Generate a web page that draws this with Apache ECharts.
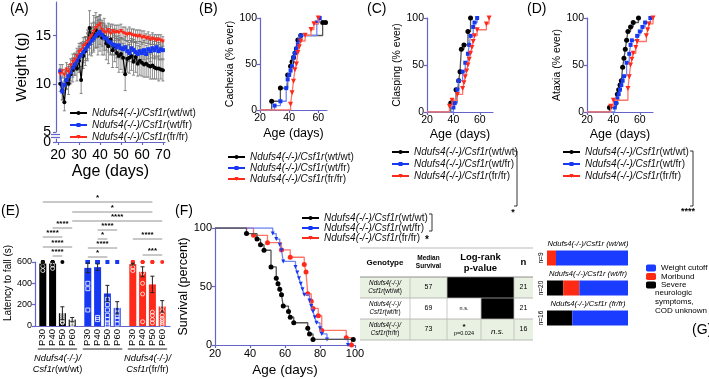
<!DOCTYPE html>
<html>
<head>
<meta charset="utf-8">
<script src="https://cdn.jsdelivr.net/npm/echarts@6.0.0/dist/echarts.min.js"></script>
<style>
html, body { margin: 0; padding: 0; background: #fff; }
#chart { width: 709px; height: 379px; }
</style>
</head>
<body>
<div id="chart"></div>
<script>
var FONT = '"Liberation Sans", Arial, sans-serif';
var AXIS = '#6565c9';

var genotypes = ['Ndufs4(-/-)/Csf1r(wt/wt)', 'Ndufs4(-/-)/Csf1r(wt/fr)', 'Ndufs4(-/-)/Csf1r(fr/fr)'];
var colors = ['#000000', '#1638f2', '#ff2a1a'];
var lineColors = ['#555555', '#6f86f5', '#ff7466'];
var symbols = ['circle', 'rect', 'triangle'];

// (A) body weight by age
var weightDays = [21,22,23,24,25,26,27,28,29,30,31,32,33,34,35,36,37,38,39,40,41,42,43,44,45,46,47,48,49,50,51,52,53,54,55,56,57,58,59,60,61,62,63,64,65,66,67,68,69,70];
var weightWt = [10.0,9.3,8.1,10.4,10.0,11.0,11.4,12.0,11.6,12.4,10.4,12.9,13.4,14.0,15.8,14.6,15.2,15.6,15.0,15.3,14.8,14.9,14.2,13.9,14.6,13.5,14.0,13.2,12.9,13.1,12.7,11.0,12.6,12.7,12.9,12.3,12.8,12.1,12.4,12.2,12.0,12.1,11.9,11.8,11.9,11.7,11.6,11.6,11.5,11.4];
var weightWf = [11.3,9.2,9.9,10.4,10.8,11.2,11.7,12.0,12.4,12.8,13.0,13.3,13.6,13.9,14.2,14.5,14.7,15.0,15.2,15.4,15.1,14.8,14.7,14.4,14.3,14.1,14.0,13.8,14.0,13.7,13.6,13.8,13.4,13.2,13.7,13.5,13.3,13.1,13.4,13.2,13.5,13.1,13.6,13.4,13.7,13.5,13.8,13.4,13.6,13.5];
var weightFf = [11.0,11.3,10.9,11.5,11.2,11.9,12.3,12.5,12.9,13.3,13.5,13.9,14.1,14.4,14.7,15.0,15.4,15.8,16.0,16.2,15.6,15.4,15.3,15.6,15.2,15.5,15.3,15.4,15.3,15.5,15.3,15.2,15.1,15.2,15.1,15.0,15.0,14.9,15.0,14.8,14.9,14.7,14.8,14.6,14.7,14.6,14.5,14.6,14.5,14.4];
var errWt = [0.8,0.9,0.9,1.0,1.1,1.0,1.2,1.1,1.3,1.2,1.4,1.3,1.5,1.6,1.8,1.7,1.9,1.8,2.0,1.9,1.8,1.9,1.7,1.8,1.6,1.8,1.7,1.5,1.7,1.6,1.5,1.7,1.4,1.6,1.5,1.4,1.6,1.3,1.5,1.4,1.3,1.4,1.2,1.3,1.4,1.2,1.1,1.3,1.0,1.1];
var errWf = [0.7,0.9,0.8,0.9,1.0,0.9,1.0,1.1,1.0,1.1,1.2,1.1,1.2,1.3,1.2,1.3,1.2,1.3,1.4,1.3,1.2,1.3,1.2,1.1,1.2,1.1,1.0,1.1,1.0,1.1,1.0,1.1,1.0,0.9,1.0,1.1,1.0,0.9,1.0,1.1,1.0,0.9,1.0,1.1,1.0,0.9,1.0,0.9,1.0,0.9];
var errFf = [0.6,0.7,0.6,0.7,0.8,0.7,0.8,0.7,0.8,0.9,0.8,0.9,0.8,0.9,1.0,0.9,1.0,1.1,1.0,0.9,0.8,0.9,0.8,0.7,0.8,0.7,0.8,0.7,0.8,0.7,0.6,0.7,0.6,0.7,0.6,0.7,0.6,0.7,0.6,0.7,0.6,0.5,0.6,0.5,0.6,0.5,0.6,0.5,0.6,0.5];

// (B)(C)(D) cumulative incidence, [age, % ever]
var cachexiaWt = [[28,9.5],[34,23.8],[39,38.1],[41,47.6],[42,52.4],[43,57.1],[44,61.9],[45,66.7],[46,76.2],[48,81],[63,95.2],[65,95.2]];
var cachexiaWf = [[30,4.8],[34,9.5],[38,23.8],[39,33.3],[40,38.1],[41,42.9],[42,47.6],[43,57.1],[44,61.9],[45,66.7],[46,71.4],[47,76.2],[48,81],[59,95.2],[61,100]];
var cachexiaFf = [[41,6.25],[42,18.75],[43,31.25],[44,43.75],[45,50],[46,62.5],[47,68.75],[48,75],[51,81.25],[55,87.5],[57,93.75],[60,100]];
var claspingWt = [[38,9.5],[42,23.8],[44,33.3],[45,42.9],[46,66.7],[48,71.4],[51,85.7],[53,100]];
var claspingWf = [[40,4.8],[41,9.5],[43,23.8],[44,33.3],[47,42.9],[49,52.4],[51,61.9],[52,71.4],[53,81],[55,90.5],[56,95.2],[58,100]];
var claspingFf = [[37,6.25],[39,12.5],[43,18.75],[47,25],[48,31.25],[49,37.5],[50,43.75],[51,50],[52,56.25],[53,62.5],[54,68.75],[55,75],[56,81.25],[58,87.5],[65,93.75],[67,100]];
var ataxiaWt = [[37,4.8],[42,9.5],[43,19],[44,23.8],[45,28.6],[46,33.3],[47,47.6],[48,57.1],[49,66.7],[50,76.2],[51,85.7],[53,90.5],[55,95.2],[59,100]];
var ataxiaWf = [[41,4.8],[42,9.5],[43,14.3],[44,19],[45,23.8],[46,28.6],[47,33.3],[48,38.1],[50,52.4],[52,61.9],[53,71.4],[54,76.2],[58,81],[60,85.7],[62,90.5],[64,95.2],[68,100]];
var ataxiaFf = [[38,6.25],[40,12.5],[51,25],[52,37.5],[53,50],[54,56.25],[55,62.5],[57,68.75],[58,75],[65,81.25],[66,87.5],[67,93.75],[70,100]];

// (E) rotarod latency to fall (s)
var ages = ['P30', 'P40', 'P50', 'P60'];
var latMean = [[585,585,120,60],[545,552,305,170],[580,508,390,184]];
var latErr = [[15,15,60,20],[45,30,76,58],[8,47,77,54]];
var latPoints = [
  [[600,600,600,600,560,520],[600,600,600,600,570,540],[600,150,120,100,80,60,40,30],[80,70,55,40,30,20,10]],
  [[600,600,600,600,600,400,350,150],[600,600,600,600,600,80,60],[600,250,200,150,100,60,30,10],[600,230,200,160,120,90,60,20]],
  [[600,600,600,600,550,520],[600,600,600,500,400,300,40],[600,600,600,500,130,100,60,30],[600,200,180,140,100,70,50,30,10]]
];
var latSig = [
  [0,0,2,2,'*',202],[0,3,2,2,'*',212],[0,3,2,3,'****',221],
  [0,1,0,3,'****',228],[0,0,0,2,'****',237],[0,0,0,3,'****',247],[0,1,0,2,'****',256],
  [1,1,1,3,'****',230],[1,1,1,2,'*',239],[1,0,1,3,'****',248],[1,0,1,2,'*',257],
  [2,0,2,3,'****',239],[2,1,2,3,'***',255]
];

// (F) survival, [age, % surviving]
var survWt = [[38,95.2],[44,90.5],[46,85.7],[48,81],[52,66.7],[55,57.1],[56,52.4],[57,47.6],[58,42.9],[59,33.3],[62,28.6],[63,23.8],[65,19],[73,14.3],[74,9.5],[76,4.8],[99,4.8]];
var survWf = [[53,95.2],[55,90.5],[57,85.7],[58,81],[59,71.4],[66,66.7],[67,61.9],[68,57.1],[69,52.4],[70,47.6],[71,42.9],[74,38.1],[75,33.3],[76,28.6],[77,23.8],[78,19],[80,14.3],[81,9.5],[84,4.8],[96,0]];
var survFf = [[42,93.75],[50,87.5],[58,81.25],[63,75],[71,68.75],[72,62.5],[73,43.75],[75,37.5],[76,31.25],[79,25],[81,12.5],[95,6.25],[98,0]];
var survMedian = [57, 69, 73];
var survN = [21, 21, 16];
var logRank = [[null, null], ['n.s.', null], ['p=0.024', 'n.s.']];

// (G) cause of death counts
var causes = ['Severe neurologic symptoms, COD unknown', 'Moribund', 'Weight cutoff'];
var causeColors = ['#000000', '#ff2a14', '#1a3cff'];
var codSevere = [0, 4, 5];
var codMoribund = [1, 4, 0];
var codWeight = [8, 12, 11];
var codN = [9, 20, 16];

function geneRich(name) {
  var k = name.indexOf('Csf1r') + 5;
  return '{i|' + name.slice(0, k) + '}' + name.slice(k);
}

function valAxis(grid, min, max, interval, o) {
  o = o || {};
  var ax = {
    type: 'value', gridIndex: grid, min: min, max: max, interval: interval,
    axisLine: {show: true, lineStyle: {color: AXIS, width: 1.2}},
    axisTick: {show: true, length: 3, lineStyle: {color: AXIS, width: 1.2}},
    axisLabel: {color: '#000', fontSize: o.fontSize || 10.5, margin: o.margin || 3, fontFamily: FONT},
    splitLine: {show: false},
    name: o.name || '', nameLocation: 'middle', nameGap: o.nameGap || 20,
    nameTextStyle: {color: '#000', fontSize: o.nameSize || 12, fontFamily: FONT, padding: o.namePad || 0}
  };
  if (o.ticks) { ax.axisLabel.customValues = o.ticks; ax.axisTick.customValues = o.ticks; }
  if (o.show === false) ax.show = false;
  return ax;
}

function errorRender(params, api) {
  var x = api.value(0), m = api.value(1), e = api.value(2);
  var t = api.coord([x, m + e]), b = api.coord([x, m - e]);
  var st = {stroke: '#707070', lineWidth: 0.8};
  return {type: 'group', children: [
    {type: 'line', shape: {x1: t[0], y1: t[1], x2: b[0], y2: b[1]}, style: st},
    {type: 'line', shape: {x1: t[0] - 1.5, y1: t[1], x2: t[0] + 1.5, y2: t[1]}, style: st},
    {type: 'line', shape: {x1: b[0] - 1.5, y1: b[1], x2: b[0] + 1.5, y2: b[1]}, style: st}
  ]};
}

function stepSeries(pts, g, axis, start, rot) {
  return {
    type: 'line', name: genotypes[g], step: 'end', xAxisIndex: axis, yAxisIndex: axis,
    data: [{value: [20, start], symbol: 'none'}].concat(pts),
    symbol: symbols[g], symbolSize: g === 1 ? 4 : 5, symbolRotate: g === 2 ? rot : 0,
    lineStyle: {color: lineColors[g], width: 1.3},
    itemStyle: {color: colors[g]}, z: 3 + g
  };
}

var series = [];
var weights = [weightWt, weightWf, weightFf];
var errs = [errWt, errWf, errFf];
[0, 1, 2].forEach(function (g) {
  series.push({
    type: 'custom', xAxisIndex: 0, yAxisIndex: 0, renderItem: errorRender, z: 2,
    data: weightDays.map(function (d, i) { return [d, weights[g][i], errs[g][i]]; })
  });
});
[0, 1, 2].forEach(function (g) {
  series.push({
    type: 'line', name: genotypes[g], xAxisIndex: 0, yAxisIndex: 0,
    data: weightDays.map(function (d, i) { return [d, weights[g][i]]; }),
    symbol: symbols[g], symbolSize: 4, symbolRotate: g === 2 ? 180 : 0,
    lineStyle: {color: colors[g], width: 1.2}, itemStyle: {color: colors[g]}, z: 3 + g
  });
});
[[cachexiaWt, cachexiaWf, cachexiaFf, 2], [claspingWt, claspingWf, claspingFf, 3], [ataxiaWt, ataxiaWf, ataxiaFf, 4]].forEach(function (set) {
  [0, 1, 2].forEach(function (g) { series.push(stepSeries(set[g], g, set[3], 0, 180)); });
});
[survWt, survWf, survFf].forEach(function (pts, g) {
  var s = stepSeries(pts, g, 6, 100, 0);
  s.symbol = ['circle', 'triangle', 'circle'][g];
  s.symbolRotate = g === 1 ? 180 : 0;
  s.z = 5 - g;
  series.push(s);
});

// (E) bars, errors, points
ages.forEach(function (age, p) {
  series.push({
    type: 'bar', name: age, xAxisIndex: 5, yAxisIndex: 5, barWidth: 7, barGap: '40%',
    data: latMean.map(function (m) { return m[p]; }),
    itemStyle: {color: function (prm) { return colors[prm.dataIndex]; }},
    label: {show: true, position: 'bottom', distance: 3, rotate: 90, align: 'right', verticalAlign: 'middle',
      formatter: age, fontSize: 9.5, color: '#000', fontFamily: FONT},
    z: 2
  });
});
function barX(api, g, p) { return api.coord([g, 0])[0] + (p - 1.5) * 9.8; }
var ptsData = [];
latPoints.forEach(function (grp, g) {
  grp.forEach(function (vals, p) { vals.forEach(function (v) { ptsData.push([g, p, v]); }); });
});
series.push({
  type: 'custom', xAxisIndex: 5, yAxisIndex: 5, z: 3, data: ptsData,
  renderItem: function (params, api) {
    var g = api.value(0), p = api.value(1), v = api.value(2);
    var x = barX(api, g, p), y = api.coord([g, v])[1];
    var full = v >= 600;
    var st = full ? {fill: colors[g]} : {fill: 'none', stroke: '#fff', lineWidth: 0.8};
    if (g === 1) return {type: 'rect', shape: {x: x - 2, y: y - 2, width: 4, height: 4}, style: st};
    return {type: 'circle', shape: {cx: x, cy: y, r: 2}, style: st};
  }
});
var latErrData = [];
latMean.forEach(function (m, g) { m.forEach(function (v, p) { latErrData.push([g, p, v, latErr[g][p]]); }); });
series.push({
  type: 'custom', xAxisIndex: 5, yAxisIndex: 5, z: 4, data: latErrData,
  renderItem: function (params, api) {
    var g = api.value(0), p = api.value(1), m = api.value(2), e = api.value(3);
    var x = barX(api, g, p), t = api.coord([g, m + e])[1], b = api.coord([g, m - e])[1];
    var st = {stroke: '#222', lineWidth: 1};
    return {type: 'group', children: [
      {type: 'line', shape: {x1: x, y1: t, x2: x, y2: b}, style: st},
      {type: 'line', shape: {x1: x - 2, y1: t, x2: x + 2, y2: t}, style: st},
      {type: 'line', shape: {x1: x - 2, y1: b, x2: x + 2, y2: b}, style: st}
    ]};
  }
});

// (G) stacked bars
[codSevere, codMoribund, codWeight].forEach(function (arr, c) {
  series.push({
    type: 'bar', name: causes[c], stack: 'cod', xAxisIndex: 7, yAxisIndex: 7, barWidth: 15,
    data: arr.map(function (v, i) { return v / codN[i]; }),
    itemStyle: {color: causeColors[c]}
  });
});

var legendBase = {
  orient: 'vertical', itemWidth: 17, itemHeight: 5, itemGap: 2, selectedMode: false,
  formatter: geneRich,
  textStyle: {fontSize: 10, color: '#111', fontFamily: FONT, fontWeight: 'normal', lineHeight: 10,
    rich: {i: {fontStyle: 'italic', fontWeight: 'normal', fontSize: 10, fontFamily: FONT, lineHeight: 10}}}
};
function leg(left, top, gap) {
  return Object.assign({}, legendBase, {left: left, top: top, itemGap: gap, data: genotypes});
}

var option = {
  animation: false,
  textStyle: {fontFamily: FONT},
  grid: [
    {left: 56, top: 2, width: 109, height: 130},
    {left: 56, top: 139, width: 109, height: 3},
    {left: 260, top: 18, width: 67, height: 92},
    {left: 427, top: 18, width: 66, height: 94},
    {left: 587, top: 18, width: 66, height: 94},
    {left: 35, top: 262, width: 135, height: 64},
    {left: 215, top: 228, width: 140, height: 117},
    {left: 547, top: 243, width: 81, height: 90}
  ],
  xAxis: [
    valAxis(0, 19, 71, 10, {show: false}),
    valAxis(1, 19, 71, 10, {fontSize: 14, margin: 6, ticks: [20, 30, 40, 50, 60, 70], name: 'Age (days)', nameSize: 16, nameGap: 22}),
    valAxis(2, 20, 66, 20, {ticks: [20, 40, 60], name: 'Age (days)', nameSize: 12.5, nameGap: 17}),
    valAxis(3, 20, 70, 20, {ticks: [20, 40, 60], name: 'Age (days)', nameSize: 12.5, nameGap: 16}),
    valAxis(4, 20, 70, 20, {ticks: [20, 40, 60], name: 'Age (days)', nameSize: 12.5, nameGap: 16}),
    {
      type: 'category', gridIndex: 5, data: genotypes,
      axisLine: {show: true, lineStyle: {color: AXIS, width: 1.2}},
      axisTick: {show: false},
      axisLabel: {margin: 27, color: '#000', fontSize: 9.3, lineHeight: 11, fontFamily: FONT,
        formatter: function (v) {
          var k = v.indexOf('Csf1r');
          return '{i|' + v.slice(0, k) + '}\n{i|Csf1r}' + v.slice(k + 5);
        },
        rich: {i: {fontStyle: 'italic', fontSize: 9.3, lineHeight: 11, fontFamily: FONT}}}
    },
    valAxis(6, 20, 100, 20, {fontSize: 11, name: 'Age (days)', nameSize: 13.5, nameGap: 18}),
    {type: 'value', gridIndex: 7, min: 0, max: 1, show: false}
  ],
  yAxis: [
    valAxis(0, 5, 18.5, 5, {fontSize: 14, margin: 5, ticks: [5, 10, 15], name: 'Weight (g)', nameSize: 15, nameGap: 27}),
    valAxis(1, 0, 1, 1, {fontSize: 14, margin: 5, ticks: [0]}),
    valAxis(2, 0, 100, 50, {name: 'Cachexia (% ever)', nameSize: 10.5, nameGap: 23}),
    valAxis(3, 0, 100, 50, {name: 'Clasping (% ever)', nameSize: 10.5, nameGap: 22}),
    valAxis(4, 0, 100, 50, {name: 'Ataxia (% ever)', nameSize: 10.5, nameGap: 22}),
    valAxis(5, 0, 600, 200, {fontSize: 9, name: 'Latency to fall (s)', nameSize: 10, nameGap: 18, namePad: [0, 0, 0, 22]}),
    valAxis(6, 0, 100, 50, {fontSize: 11, name: 'Survival (percent)', nameSize: 12.5, nameGap: 24}),
    {
      type: 'category', gridIndex: 7, inverse: true, data: codN.map(function (n) { return 'n=' + n; }),
      axisLine: {show: false}, axisTick: {show: false},
      axisLabel: {rotate: 90, margin: 2, fontSize: 6.5, color: '#000', fontFamily: FONT}
    }
  ],
  legend: [
    leg(64, 103, 2),
    leg(222, 147, 1),
    leg(386, 142, 2),
    leg(557, 142, 2),
    leg(296, 208, 0),
    {
      orient: 'vertical', left: 641, top: 259, itemWidth: 10, itemHeight: 7, itemGap: 0.5, selectedMode: false,
      data: ['Weight cutoff', 'Moribund', 'Severe neurologic symptoms, COD unknown'],
      formatter: function (n) { return n.indexOf('Severe') === 0 ? 'Severe' : n; },
      textStyle: {fontSize: 8, color: '#000', fontFamily: FONT, lineHeight: 8}
    }
  ],
  series: series
};

var chart = echarts.init(document.getElementById('chart'));
chart.setOption(option);

// annotations
function txt(x, y, s, size, o) {
  o = o || {};
  return {type: 'text', x: x, y: y, silent: true, style: {
    text: s, fill: o.fill || '#000', align: o.align || 'left', verticalAlign: o.va || 'middle',
    font: (o.weight || '') + ' ' + (o.italic ? 'italic ' : '') + size + 'px ' + FONT,
    rich: o.rich, lineHeight: o.lh
  }};
}
function seg(x1, y1, x2, y2, c, w) {
  return {type: 'line', silent: true, shape: {x1: x1, y1: y1, x2: x2, y2: y2}, style: {stroke: c || '#000', lineWidth: w || 1}};
}
var gfx = [];
[['(A)', 10, 9], ['(B)', 199, 9], ['(C)', 367, 9], ['(D)', 527, 9], ['(E)', 1, 211], ['(F)', 175, 211], ['(G)', 692, 330]].forEach(function (l) {
  gfx.push(txt(l[1], l[2], l[0], 14));
});
// axis break marks in (A)
gfx.push(seg(51, 134.5, 60, 134.5, AXIS, 1.2), seg(51, 137.5, 60, 137.5, AXIS, 1.2));

// (E) significance brackets and group underlines
function ePx(g, p) { return chart.convertToPixel({xAxisIndex: 5}, g) + (p - 1.5) * 9.8; }
latSig.forEach(function (s) {
  var x1 = ePx(s[0], s[1]), x2 = ePx(s[2], s[3]);
  gfx.push(seg(x1, s[5], x2, s[5], '#777', 0.8));
  gfx.push(txt((x1 + x2) / 2, s[5] - 4, s[4], 8, {align: 'center', weight: 'bold'}));
});
[0, 1, 2].forEach(function (g) {
  gfx.push(seg(ePx(g, 0) - 5, 349, ePx(g, 3) + 5, 349, '#222', 1));
});

// (C) (D) (F) legend brackets
function bracket(x, y1, y2, label, lx, ly) {
  gfx.push({type: 'polyline', silent: true, shape: {points: [[x - 3, y1], [x, y1], [x, y2], [x - 3, y2]]}, style: {stroke: '#000', lineWidth: 0.8, fill: null}});
  gfx.push(txt(lx, ly, label, 9, {align: 'center', weight: 'bold'}));
}
bracket(517, 151, 206, '*', 513, 213);
bracket(693, 151, 206, '****', 688, 212);
bracket(432, 214, 231, '', 0, 0);
gfx.push(txt(427, 240, '*', 10, {align: 'center', weight: 'bold'}));

// (F) log-rank table
var tx = [360, 410, 447, 481, 514, 533];
var ty = [248, 277, 298, 319, 340];
[0, 2].forEach(function (r) {
  gfx.push({type: 'rect', silent: true, shape: {x: tx[0], y: ty[r + 1], width: tx[5] - tx[0], height: ty[r + 2] - ty[r + 1]}, style: {fill: '#e9f1e2'}});
});
logRank.forEach(function (row, r) {
  row.forEach(function (v, c) {
    if (v === null) gfx.push({type: 'rect', silent: true, shape: {x: tx[2 + c], y: ty[r + 1], width: tx[3 + c] - tx[2 + c], height: ty[r + 2] - ty[r + 1]}, style: {fill: '#000'}});
  });
});
ty.forEach(function (y, i) { gfx.push(seg(tx[0], y, tx[5], y, i === 1 ? '#777' : '#aaa', 0.8)); });
[1, 2, 4].forEach(function (c) { gfx.push(seg(tx[c], ty[1], tx[c], ty[4], '#bbb', 0.8)); });
gfx.push(seg(tx[3], ty[2], tx[3], ty[4], '#bbb', 0.8));
var hy = (ty[0] + ty[1]) / 2;
gfx.push(txt((tx[0] + tx[1]) / 2, hy, 'Genotype', 8, {align: 'center', weight: 'bold'}));
gfx.push(txt((tx[1] + tx[2]) / 2, hy, 'Median\nSurvival', 6.5, {align: 'center', weight: 'bold', lh: 8}));
gfx.push(txt((tx[2] + tx[4]) / 2, hy, 'Log-rank\np-value', 9.5, {align: 'center', weight: 'bold', lh: 11}));
gfx.push(txt((tx[4] + tx[5]) / 2, hy, 'n', 9.5, {align: 'center', weight: 'bold'}));
genotypes.forEach(function (name, r) {
  var cy = (ty[r + 1] + ty[r + 2]) / 2;
  var k = name.indexOf('Csf1r');
  gfx.push(txt((tx[0] + tx[1]) / 2, cy, '{i|' + name.slice(0, k) + '}\n{i|Csf1r}' + name.slice(k + 5), 6.3,
    {align: 'center', lh: 8, rich: {i: {fontStyle: 'italic', fontSize: 6.3, lineHeight: 8, fontFamily: FONT}}}));
  gfx.push(txt((tx[1] + tx[2]) / 2, cy, String(survMedian[r]), 7, {align: 'center'}));
  gfx.push(txt((tx[4] + tx[5]) / 2, cy, String(survN[r]), 7, {align: 'center'}));
  logRank[r].forEach(function (v, c) {
    if (v === null) return;
    var cx = (tx[2 + c] + tx[3 + c]) / 2;
    if (v.indexOf('p=') === 0) {
      gfx.push(txt(cx, cy - 3, '*', 8, {align: 'center', weight: 'bold'}));
      gfx.push(txt(cx, cy + 4, v, 5.5, {align: 'center'}));
    } else if (c === 1) {
      gfx.push(txt(cx, cy + 2, v, 8, {align: 'center', italic: true}));
    } else {
      gfx.push(txt(cx, cy, v, 5.5, {align: 'center'}));
    }
  });
});

// (G) bar titles and legend continuation
genotypes.forEach(function (name, i) {
  var y = chart.convertToPixel({yAxisIndex: 7}, i) - 14;
  var k = name.indexOf('(', name.indexOf('Csf1r'));
  gfx.push(txt(588, y, '{i|' + name.slice(0, k) + ' ' + name.slice(k) + '}', 7.6,
    {align: 'center', rich: {i: {fontStyle: 'italic', fontSize: 7.6, fontFamily: FONT}}}));
});
gfx.push(txt(655, 288, 'neurologic\nsymptoms,\nCOD unknown', 8, {lh: 9, va: 'top'}));

chart.setOption({graphic: gfx});
</script>
</body>
</html>
